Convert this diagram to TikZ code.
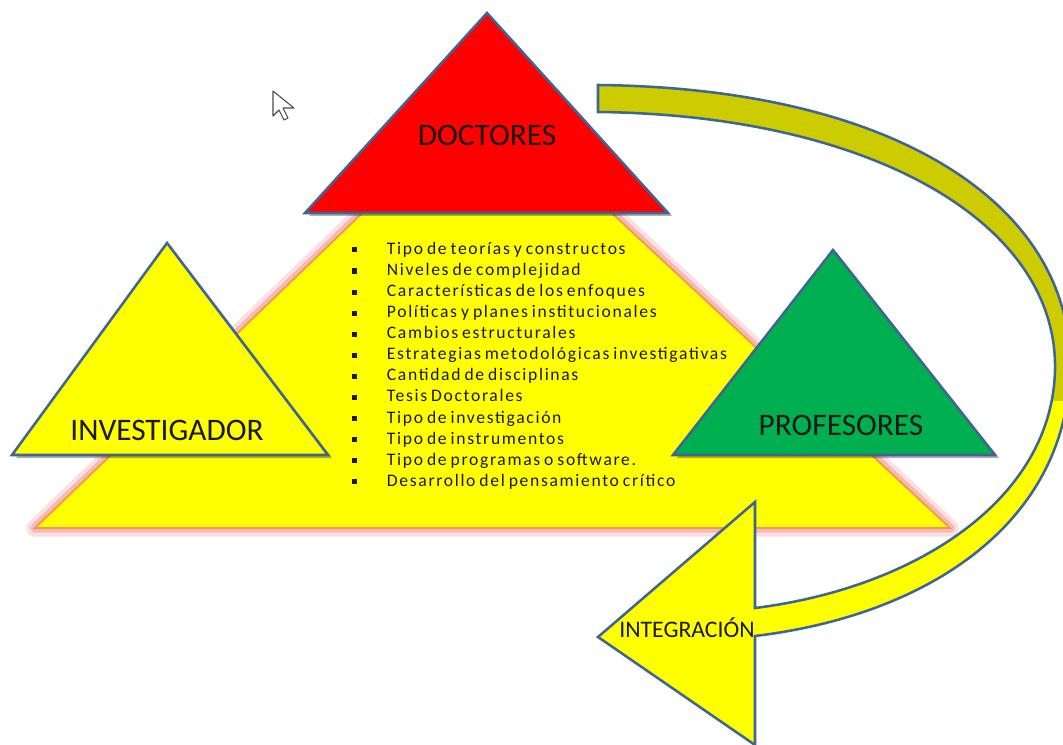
\documentclass[tikz,border=0pt]{standalone}
\usepackage{fontspec}
\setmainfont{Carlito}
\newfontfamily\listfont{Carlito}[LetterSpace=9.5, WordSpace=0.7]
\usepackage{tikz}
\usepackage{xcolor}

\definecolor{edgeblue}{HTML}{3E6593}
\definecolor{baseyellow}{HTML}{FFFF00}
\definecolor{baseorange}{HTML}{F79646}
\definecolor{glowpink}{HTML}{EE9A9A}
\definecolor{docred}{HTML}{FF0000}
\definecolor{profgreen}{HTML}{00B050}
\definecolor{arcolive}{HTML}{CCCC00}

\newcommand{\blt}{\makebox[26pt][l]{\rule[1.5pt]{3.8pt}{3.8pt}}}
\newcommand{\arcpath}{(598,85) .. controls (895,88) and (1074,205) .. (1070,370)
    .. controls (1066,522) and (930,615) .. (755,636)
    -- (755,745) -- (598,637) -- (755,502) -- (755,608)
    .. controls (915,588) and (1052,500) .. (1055,370)
    .. controls (1058,222) and (870,115) .. (598,112) -- cycle}

\begin{document}
\begin{tikzpicture}[x=0.75pt, y=-0.75pt,
  tribox/.style={draw=edgeblue, line width=1.9pt, line join=miter},
  trishadow/.style={fill=black, opacity=0.30},
  trilabel/.style={font=\fontsize{23.5pt}{27pt}\selectfont, text=black!90},
  itemlist/.style={align=left, inner sep=0pt, font=\listfont\fontsize{13.2pt}{15.8pt}\selectfont, text=black!90},
  arclabel/.style={font=\fontsize{17.8pt}{20pt}\selectfont, text=black!90, inner sep=0pt}
]
  \useasboundingbox (0,0) rectangle (1063,745);

  % base triangle with glow
  \draw[glowpink, opacity=0.30, line width=13pt, line join=round] (35,528) -- (485,95) -- (950,528) -- cycle;
  \draw[glowpink, opacity=0.55, line width=7pt, line join=round] (35,528) -- (485,95) -- (950,528) -- cycle;
  \draw[fill=baseyellow, draw=baseorange, line width=1.3pt] (35,528) -- (485,95) -- (950,528) -- cycle;

  % curved arrow
  \fill[baseyellow] \arcpath;
  \begin{scope}
    \clip (0,0) rectangle (1063,400);
    \fill[arcolive] \arcpath;
  \end{scope}
  \draw[edgeblue, line width=1.9pt] \arcpath;

  % small triangles
  \fill[trishadow] (309,216) -- (491,16) -- (672,216) -- cycle;
  \draw[tribox, fill=docred] (305,213) -- (487,13) -- (668,213) -- cycle;
  \fill[trishadow] (16,458) -- (171,246) -- (332,458) -- cycle;
  \draw[tribox, fill=baseyellow] (12,455) -- (167,243) -- (328,455) -- cycle;
  \fill[trishadow] (677,458) -- (837,253) -- (999,458) -- cycle;
  \draw[tribox, fill=profgreen] (673,455) -- (833,250) -- (995,455) -- cycle;

  % cursor
  \draw[fill=white, draw=black!70, line width=0.8pt, line join=round]
    (273,91) -- (273,116) -- (279,110) -- (284,120) -- (288,118) -- (283,108) -- (294,108) -- cycle;

  \node[trilabel] (doctores) at (487,135) {DOCTORES};
  \node[trilabel] (investigador) at (167,430) {INVESTIGADOR};
  \node[trilabel] (profesores) at (841,425) {PROFESORES};
  \node[arclabel] (integracion) at (687,628) {INTEGRACIÓN};

  \node[itemlist, anchor=north west] (lista) at (352,242) {%
    \blt Tipo de teorías y constructos\\
    \blt Niveles de complejidad\\
    \blt Características de los enfoques\\
    \blt Políticas y planes institucionales\\
    \blt Cambios estructurales\\
    \blt Estrategias metodológicas investigativas\\
    \blt Cantidad de disciplinas\\
    \blt Tesis Doctorales\\
    \blt Tipo de investigación\\
    \blt Tipo de instrumentos\\
    \blt Tipo de programas o software.\\
    \blt Desarrollo del pensamiento crítico};
\end{tikzpicture}
\end{document}
